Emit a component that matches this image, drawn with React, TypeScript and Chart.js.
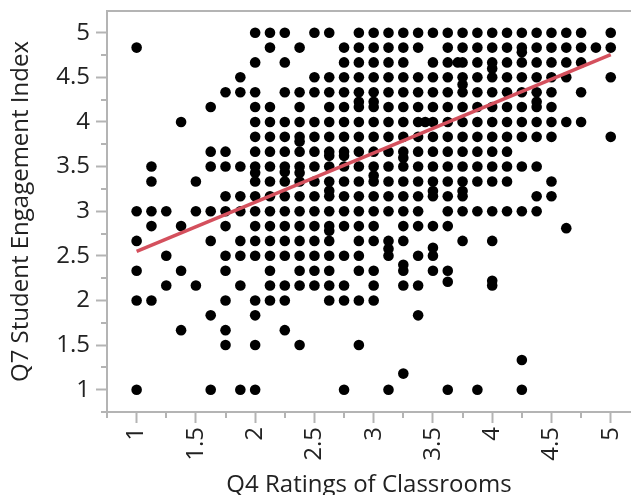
import React, { useEffect, useRef } from "react";
import { Chart, registerables } from "chart.js";

Chart.register(...registerables);

// Discrete response levels (Q4 on x, Q7 on y)
const xLevels = [1, 1.125, 1.25, 1.375, 1.5, 1.625, 1.75, 1.875, 2, 2.125, 2.25, 2.375, 2.5, 2.625, 2.75, 2.875, 3, 3.125, 3.25, 3.375, 3.5, 3.625, 3.75, 3.875, 4, 4.125, 4.25, 4.375, 4.5, 4.625, 4.75, 4.875, 5];
const yLevels = [1, 1.167, 1.333, 1.5, 1.667, 1.833, 2, 2.167, 2.333, 2.5, 2.667, 2.833, 3, 3.167, 3.333, 3.5, 3.667, 3.833, 4, 4.167, 4.333, 4.5, 4.667, 4.833, 5];

// For each y level: indices into xLevels where observations occur
const occupied: number[][] = [
  [0, 5, 7, 8, 14, 17, 21, 23, 26],
  [],
  [26],
  [6, 8, 11, 15],
  [3, 6, 10],
  [5, 8, 19],
  [0, 1, 6, 8, 9, 10, 13, 14, 15, 16],
  [2, 4, 7, 9, 10, 11, 12, 13, 14, 16, 18, 19, 24],
  [0, 3, 6, 9, 11, 12, 13, 15, 16, 18, 20, 21],
  [2, 6, 7, 8, 9, 10, 11, 12, 13, 14, 15, 17, 19, 20],
  [0, 5, 7, 8, 9, 10, 11, 12, 13, 15, 16, 17, 18, 22, 24],
  [1, 3, 6, 8, 9, 10, 11, 12, 13, 14, 15, 16, 18, 19, 20, 21],
  [0, 1, 2, 4, 5, 6, 7, 8, 9, 10, 11, 12, 13, 14, 15, 16, 17, 18, 19, 21, 22, 23, 24, 25, 26, 27],
  [6, 7, 8, 9, 10, 11, 12, 13, 14, 15, 16, 17, 18, 19, 20, 21, 22, 27, 28],
  [1, 4, 8, 9, 10, 11, 12, 13, 14, 15, 16, 17, 18, 19, 20, 21, 22, 23, 24, 25, 28],
  [1, 5, 6, 7, 8, 9, 10, 11, 12, 13, 14, 15, 16, 17, 18, 19, 20, 21, 22, 23, 24, 25, 26, 27],
  [5, 6, 8, 9, 10, 11, 12, 13, 14, 15, 16, 17, 18, 19, 20, 21, 22, 23, 24, 25],
  [8, 9, 10, 11, 12, 13, 14, 15, 16, 17, 18, 19, 20, 21, 22, 23, 24, 25, 26, 27, 28, 32],
  [3, 8, 9, 10, 11, 12, 13, 14, 15, 16, 17, 18, 19, 20, 21, 22, 23, 24, 25, 26, 27, 28, 29, 30],
  [5, 8, 9, 11, 13, 14, 15, 16, 17, 18, 19, 20, 21, 22, 23, 24, 25, 26, 27, 28],
  [6, 7, 8, 10, 11, 12, 13, 14, 15, 16, 17, 18, 19, 20, 21, 22, 23, 24, 25, 26, 27, 28, 30],
  [7, 12, 13, 14, 15, 16, 17, 18, 19, 20, 21, 22, 23, 24, 25, 26, 27, 28, 29, 32],
  [8, 10, 14, 15, 16, 17, 18, 20, 21, 22, 23, 24, 25, 26, 27, 28, 29, 30],
  [0, 9, 11, 14, 15, 16, 17, 18, 19, 21, 22, 23, 24, 25, 26, 27, 28, 29, 30, 31, 32],
  [8, 9, 10, 12, 13, 15, 16, 17, 18, 19, 20, 21, 22, 23, 24, 25, 26, 27, 28, 29, 30, 32],
];

// Observations that fall between the regular levels
const extraX = [3.25, 3.625, 4.0, 3.25, 3.125, 3.5, 4.625, 2.625, 2.625, 3.5, 3.75, 3.0, 2.0, 2.25, 2.375, 3.25, 2.625, 2.75, 2.375, 3.435, 2.875, 3.0, 4.375, 3.75, 3.71, 4.0, 4.25];
const extraY = [1.18, 2.21, 2.22, 2.4, 2.58, 2.59, 2.81, 2.78, 3.23, 3.225, 3.225, 3.4, 3.43, 3.44, 3.43, 3.6, 3.62, 3.62, 3.78, 4.0, 4.225, 4.225, 4.225, 4.42, 4.667, 4.6, 4.78];

// Linear fit endpoints
const fitX = [1, 5];
const fitY = [2.55, 4.755];

const tickFont = { family: "'Open Sans', 'Noto Sans', sans-serif", size: 24 };
const titleFont = { family: "'Open Sans', 'Noto Sans', sans-serif", size: 24 };
const frameColor = "#b4b4b4";
const textColor = "#222222";

const fmt = (v: any) => String(Number(v));

const frameAndMinorTicks = {
  id: "frameAndMinorTicks",
  beforeDatasetsDraw(chart: any) {
    const { ctx, chartArea: a, scales } = chart;
    const xs = scales.x;
    const ys = scales.y;
    const step = 0.25;
    ctx.save();
    ctx.strokeStyle = frameColor;
    ctx.lineWidth = 2;
    ctx.beginPath();
    ctx.moveTo(a.left, a.top);
    ctx.lineTo(a.right, a.top);
    for (let v = Math.ceil(xs.min / step - 1e-9) * step; v <= xs.max + 1e-9; v += step) {
      if (Math.abs(v * 2 - Math.round(v * 2)) < 1e-6) continue;
      const px = Math.round(xs.getPixelForValue(v));
      ctx.moveTo(px, a.bottom);
      ctx.lineTo(px, a.bottom + 6);
    }
    for (let v = Math.ceil(ys.min / step - 1e-9) * step; v <= ys.max + 1e-9; v += step) {
      if (Math.abs(v * 2 - Math.round(v * 2)) < 1e-6) continue;
      const py = Math.round(ys.getPixelForValue(v));
      ctx.moveTo(a.left, py);
      ctx.lineTo(a.left - 6, py);
    }
    ctx.stroke();
    ctx.restore();
  },
};

const zeroPadding = (s: any) => {
  s.paddingTop = 0;
  s.paddingBottom = 0;
  s.paddingLeft = 0;
  s.paddingRight = 0;
};

export default function App() {
  const ref = useRef<HTMLCanvasElement | null>(null);

  useEffect(() => {
    if (!ref.current) return;
    const points: { x: number; y: number }[] = [];
    occupied.forEach((cols, j) => {
      cols.forEach((k) => points.push({ x: xLevels[k], y: yLevels[j] }));
    });
    extraX.forEach((x, i) => points.push({ x, y: extraY[i] }));

    const chart = new Chart(ref.current, {
      type: "scatter",
      data: {
        datasets: [
          {
            type: "line",
            data: fitX.map((x, i) => ({ x, y: fitY[i] })),
            borderColor: "#d4505d",
            borderWidth: 3.5,
            pointRadius: 0,
            fill: false,
          } as any,
          {
            type: "scatter",
            data: points,
            backgroundColor: "#000000",
            borderWidth: 0,
            pointRadius: 5.3,
            pointHoverRadius: 5.3,
          },
        ],
      },
      options: {
        animation: false,
        responsive: false,
        devicePixelRatio: 1,
        layout: { autoPadding: false, padding: { top: 11, right: 0, bottom: 0, left: 0 } },
        plugins: { legend: { display: false }, tooltip: { enabled: false } },
        scales: {
          x: {
            type: "linear",
            min: 0.75,
            max: 5.171,
            afterFit: (s: any) => {
              s.height = 83;
              zeroPadding(s);
            },
            ticks: {
              stepSize: 0.5,
              includeBounds: false,
              minRotation: 90,
              maxRotation: 90,
              padding: 4,
              color: textColor,
              font: tickFont,
              callback: fmt,
            },
            grid: {
              display: true,
              drawOnChartArea: false,
              drawTicks: true,
              tickLength: 11,
              tickWidth: 2,
              tickColor: frameColor,
            },
            border: { display: true, color: frameColor, width: 2 },
            title: {
              display: true,
              text: "Q4 Ratings of Classrooms",
              color: textColor,
              font: titleFont,
              padding: { top: 0, bottom: -5 },
            },
          },
          y: {
            type: "linear",
            min: 0.75,
            max: 5.243,
            afterFit: (s: any) => {
              s.width = 107;
              zeroPadding(s);
            },
            ticks: {
              stepSize: 0.5,
              includeBounds: false,
              padding: 6,
              color: textColor,
              font: tickFont,
              callback: fmt,
            },
            grid: {
              display: true,
              drawOnChartArea: false,
              drawTicks: true,
              tickLength: 11,
              tickWidth: 2,
              tickColor: frameColor,
            },
            border: { display: true, color: frameColor, width: 2 },
            title: {
              display: true,
              text: "Q7 Student Engagement Index",
              color: textColor,
              font: titleFont,
              padding: { top: 7, bottom: 0 },
            },
          },
        },
      },
      plugins: [frameAndMinorTicks],
    });
    return () => chart.destroy();
  }, []);

  return (
    <div style={{ position: "fixed", left: 0, top: 0, width: 631, height: 495, background: "#ffffff" }}>
      <canvas ref={ref} width={631} height={495} style={{ display: "block" }} />
    </div>
  );
}
